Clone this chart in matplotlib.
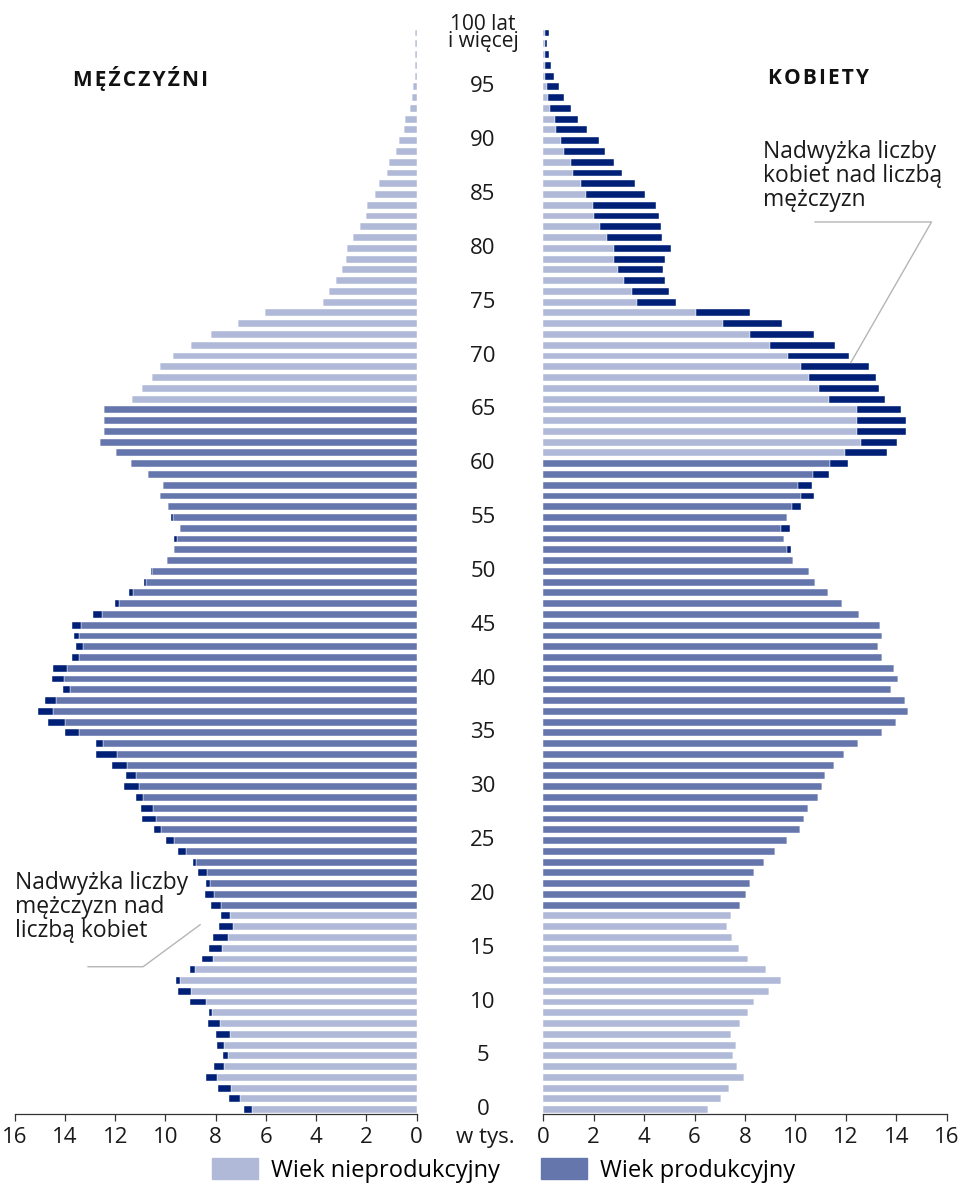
import numpy as np
import matplotlib
matplotlib.use("Agg")
import matplotlib.pyplot as plt
from matplotlib.transforms import blended_transform_factory
from matplotlib.patches import Patch

plt.rcParams['font.family'] = ['Open Sans', 'DejaVu Sans']

# population by single year of age, thousands (0 .. 100+)
ages = np.arange(0, 101)
men = np.array([
    6.88, 7.48, 7.90, 8.38, 8.08, 7.72, 7.96, 7.98, 8.29, 8.26,
    9.02, 9.52, 9.59, 9.03, 8.53, 8.25, 8.09, 7.88, 7.80, 8.17,
    8.41, 8.38, 8.69, 8.91, 9.52, 9.97, 10.45, 10.94, 10.98, 11.19,
    11.63, 11.59, 12.12, 12.76, 12.77, 13.99, 14.67, 15.07, 14.79, 14.06,
    14.51, 14.46, 13.73, 13.57, 13.62, 13.70, 12.88, 11.99, 11.47, 10.86,
    10.57, 9.95, 9.66, 9.67, 9.41, 9.77, 9.88, 10.22, 10.10, 10.71,
    11.36, 11.97, 12.60, 12.45, 12.46, 12.46, 11.33, 10.92, 10.54, 10.23,
    9.71, 9.00, 8.20, 7.13, 6.05, 3.73, 3.51, 3.21, 2.98, 2.80,
    2.79, 2.53, 2.25, 2.00, 1.96, 1.68, 1.50, 1.18, 1.10, 0.83,
    0.72, 0.51, 0.45, 0.26, 0.20, 0.14, 0.08, 0.07, 0.05, 0.05,
    0.08])
women = np.array([
    6.55, 7.04, 7.38, 7.96, 7.67, 7.53, 7.66, 7.45, 7.82, 8.13,
    8.37, 8.97, 9.44, 8.82, 8.10, 7.75, 7.50, 7.30, 7.43, 7.79,
    8.06, 8.21, 8.35, 8.77, 9.19, 9.67, 10.19, 10.36, 10.50, 10.89,
    11.07, 11.16, 11.55, 11.92, 12.50, 13.45, 14.01, 14.48, 14.34, 13.78,
    14.05, 13.93, 13.44, 13.27, 13.45, 13.36, 12.51, 11.85, 11.30, 10.77,
    10.53, 9.92, 9.81, 9.56, 9.79, 9.68, 10.21, 10.75, 10.66, 11.34,
    12.10, 13.64, 14.02, 14.39, 14.37, 14.18, 13.57, 13.32, 13.21, 12.90,
    12.12, 11.59, 10.74, 9.46, 8.21, 5.25, 5.00, 4.83, 4.75, 4.81,
    5.08, 4.70, 4.66, 4.59, 4.48, 4.04, 3.62, 3.14, 2.82, 2.46,
    2.21, 1.75, 1.36, 1.08, 0.81, 0.62, 0.42, 0.32, 0.22, 0.13,
    0.21])

# working age ranges as drawn in the chart
men_work = (19, 65)
women_work = (19, 60)

age_labels = list(range(0, 100, 5))
x_ticks = list(range(0, 17, 2))

c_non = '#b0bad8'
c_work = '#6476ac'
c_excess = '#002078'

fig = plt.figure(figsize=(9.65, 11.85), dpi=100)
ax_l = fig.add_axes([0.01523, 0.0599, 0.4166, 0.9168])
ax_r = fig.add_axes([0.5630, 0.0599, 0.4180, 0.9168])

base = np.minimum(men, women)
h = 0.64

col_m = [c_work if men_work[0] <= a <= men_work[1] else c_non for a in ages]
col_w = [c_work if women_work[0] <= a <= women_work[1] else c_non for a in ages]

ax_l.barh(ages, base, height=h, color=col_m, edgecolor='white', linewidth=0.3)
ax_l.barh(ages, men - base, left=base, height=h, color=c_excess,
          edgecolor='white', linewidth=0.3)
ax_r.barh(ages, base, height=h, color=col_w, edgecolor='white', linewidth=0.3)
ax_r.barh(ages, women - base, left=base, height=h, color=c_excess,
          edgecolor='white', linewidth=0.3)

ax_l.set_xlim(16, 0)
ax_r.set_xlim(0, 16)
for ax in (ax_l, ax_r):
    ax.set_ylim(-0.4, 100.5)
    ax.set_xticks(x_ticks)
    ax.set_yticks([])
    for s in ('top', 'left', 'right'):
        ax.spines[s].set_visible(False)
    ax.spines['bottom'].set_color('#333333')
    ax.spines['bottom'].set_linewidth(0.9)
    ax.tick_params(axis='x', labelsize=16, length=5, width=0.9,
                   color='#333333', labelcolor='#1a1a1a', pad=4)

# age labels between the two panels
tr = blended_transform_factory(fig.transFigure, ax_l.transData)
for a in age_labels:
    fig.text(0.5005, a, str(a), transform=tr, ha='center', va='center',
             fontsize=16, color='#1a1a1a')
fig.text(0.5005, 100.0, '100 lat\ni więcej', transform=tr, ha='center',
         va='center', fontsize=15, color='#1a1a1a', linespacing=0.8)
fig.text(0.5026, 0.0405, 'w tys.', ha='center', va='center',
         fontsize=16, color='#1a1a1a')

# panel titles
hs = '\u200a'
ax_l.text(11.0, 95.8, hs.join('MĘŹCZYŹNI'), ha='center', va='center',
          fontsize=15, fontweight='bold', color='#111111')
ax_r.text(10.9, 95.8, hs.join('KOBIETY'), ha='center', va='center',
          fontsize=15, fontweight='bold', color='#111111')

# annotations
ax_r.text(8.7, 90.1, 'Nadwyżka liczby\nkobiet nad liczbą\nmężczyzn',
          ha='left', va='top', fontsize=16.5, color='#1a1a1a', linespacing=1.0)
ax_r.plot([10.78, 15.4, 12.2], [82.45, 82.45, 69.4], color='#b5b5b5', lw=1)
ax_l.text(16.0, 22.2, 'Nadwyżka liczby\nmężczyzn nad\nliczbą kobiet',
          ha='left', va='top', fontsize=16.5, color='#1a1a1a', linespacing=1.0)
ax_l.plot([13.08, 10.89, 8.62], [13.28, 13.28, 17.18], color='#b5b5b5', lw=1)

# legend
handles = [Patch(color=c_non, label='Wiek nieprodukcyjny'),
           Patch(color=c_work, label='Wiek produkcyjny')]
fig.legend(handles=handles, loc='lower center', bbox_to_anchor=(0.522, -0.016),
           ncol=2, frameon=False, fontsize=17, handlelength=1.95,
           handleheight=1.0, columnspacing=1.75, handletextpad=0.55)

fig.savefig('out.png', dpi=100)
